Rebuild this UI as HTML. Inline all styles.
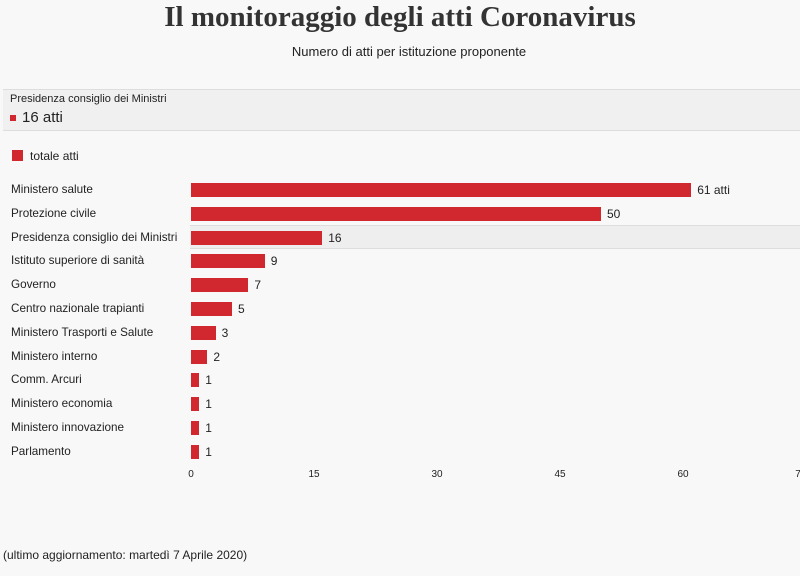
<!DOCTYPE html>
<html><head><meta charset="utf-8"><style>
body{margin:0;width:800px;height:576px;background:#f8f8f8;font-family:"Liberation Sans",sans-serif;color:#222;position:relative;overflow:hidden}
.t{position:absolute;white-space:nowrap}
.bar{position:absolute;left:191px;height:14px;background:#d1282f}
.lab{position:absolute;left:11px;font-size:11.7px}
.val{position:absolute;font-size:12px}
.tick{position:absolute;top:469px;font-size:10px;width:30px;text-align:center}
</style></head><body>
<div class="t" style="left:0;width:800px;text-align:center;top:1px;font-family:'Liberation Serif',serif;font-weight:bold;font-size:29px;color:#333">Il monitoraggio degli atti Coronavirus</div>
<div class="t" style="left:0;width:818px;text-align:center;top:44px;font-size:13px">Numero di atti per istituzione proponente</div>
<div style="position:absolute;left:3px;top:89px;width:800px;height:40px;background:#f0f0f0;border-top:1px solid #ddd;border-bottom:1px solid #ddd"></div>
<div class="t" style="left:10px;top:93px;font-size:11px">Presidenza consiglio dei Ministri</div>
<div style="position:absolute;left:10px;top:115px;width:6px;height:6px;background:#d1282f"></div>
<div class="t" style="left:22px;top:109px;font-size:15px">16 atti</div>
<div style="position:absolute;left:12px;top:150px;width:11px;height:11px;background:#d1282f"></div>
<div class="t" style="left:30px;top:149px;font-size:12px">totale atti</div>
<div style="position:absolute;left:190px;top:225px;width:610px;height:22px;background:#eee;border-top:1px solid #ddd;border-bottom:1px solid #ddd"></div>
<div id="rows"></div>
<div class="tick" style="left:176px">0</div>
<div class="tick" style="left:299px">15</div>
<div class="tick" style="left:422px">30</div>
<div class="tick" style="left:545px">45</div>
<div class="tick" style="left:668px">60</div>
<div class="tick" style="left:783px">7</div>
<div class="t" style="left:3px;top:548px;font-size:12px">(ultimo aggiornamento: martedì 7 Aprile 2020)</div>
<script>
var d=[["Ministero salute",61,"61 atti"],["Protezione civile",50],["Presidenza consiglio dei Ministri",16],["Istituto superiore di sanità",9],["Governo",7],["Centro nazionale trapianti",5],["Ministero Trasporti e Salute",3],["Ministero interno",2],["Comm. Arcuri",1],["Ministero economia",1],["Ministero innovazione",1],["Parlamento",1]];
var h="";d.forEach(function(r,i){var c=190+i*23.8;var w=r[1]*8.2;
h+='<div class="lab" style="top:'+(c-7)+'px">'+r[0]+'</div><div class="bar" style="top:'+(c-7)+'px;width:'+w+'px"></div><div class="val" style="top:'+(c-7)+'px;left:'+(191+w+6)+'px">'+(r[2]||r[1])+'</div>';});
document.getElementById("rows").innerHTML=h;
</script>
</body></html>
